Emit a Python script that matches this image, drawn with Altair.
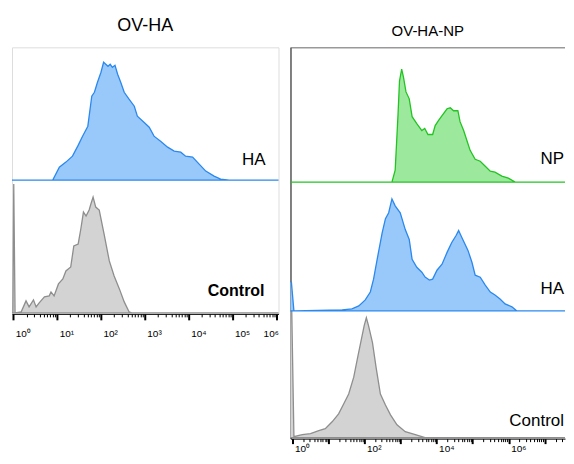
import math
import altair as alt
import pandas as pd

# ---------------- data (x = log10 of fluorescence, y = event count) ----------------
# Left panel: OV-HA
ha1_x = [-0.10, 0.90, 1.05, 1.20, 1.35, 1.47, 1.58, 1.70, 1.79, 1.85, 1.92, 2.00, 2.06, 2.11, 2.16,
         2.21, 2.26, 2.32, 2.38, 2.45, 2.53, 2.64, 2.76, 2.83, 2.98, 3.10, 3.21, 3.36, 3.52, 3.67,
         3.82, 3.93, 4.09, 4.24, 4.39, 4.58, 4.73, 4.92, 7.00]
ha1_y = [0, 0, 13, 18, 24, 34, 44, 54, 84, 88, 98, 108, 118, 116, 114,
         116, 113, 115, 106, 98, 88, 81, 74, 64, 58, 53, 44, 39, 33, 29,
         28, 24, 23, 16, 9, 4, 1, 0, 0]

ctl1_x = [-0.10, -0.01, 0.01, 0.04, 0.18, 0.29, 0.36, 0.46, 0.52, 0.59, 0.71, 0.82, 0.86, 0.93,
          1.03, 1.13, 1.20, 1.31, 1.38, 1.48, 1.54, 1.60, 1.66, 1.73, 1.77, 1.82, 1.88, 1.96,
          2.07, 2.19, 2.30, 2.42, 2.53, 2.64, 2.70, 7.00]
ctl1_y = [0, 0, 129, 0, 1, 12, 6, 13, 6, 10, 16, 17, 21, 17,
          29, 34, 42, 46, 67, 69, 84, 101, 97, 103, 109, 116, 106, 103,
          79, 52, 37, 24, 11, 1, 0, 0]

# Right panel: OV-HA-NP
np2_x = [-0.10, 2.76, 2.85, 2.93, 2.97, 3.03, 3.08, 3.15, 3.24, 3.32, 3.45, 3.59, 3.67, 3.76,
         3.89, 3.96, 4.05, 4.15, 4.29, 4.38, 4.47, 4.59, 4.65, 4.75, 4.84, 4.93, 5.07, 5.21,
         5.35, 5.49, 5.62, 5.81, 5.99, 6.18, 9.00]
np2_y = [0, 0, 12, 69, 102, 114, 106, 91, 84, 66, 59, 52, 54, 48,
         48, 57, 62, 67, 74, 75, 72, 72, 61, 52, 42, 32, 23, 21,
         16, 11, 10, 6, 4, 0, 0]

ha2_x = [-0.10, -0.03, 0.04, 1.38, 1.65, 1.84, 2.02, 2.16, 2.25, 2.35, 2.49, 2.58, 2.67, 2.76,
         2.85, 2.99, 3.13, 3.24, 3.32, 3.45, 3.59, 3.68, 3.80, 3.89, 4.01, 4.15, 4.29, 4.42,
         4.54, 4.61, 4.70, 4.87, 4.98, 5.07, 5.21, 5.35, 5.49, 5.62, 5.76, 5.90, 6.09, 6.22, 9.00]
ha2_y = [29, 29, 0, 1, 2, 5, 11, 19, 32, 52, 79, 93, 99, 113,
         106, 99, 82, 72, 52, 44, 39, 34, 31, 32, 41, 47, 59, 69,
         76, 81, 74, 61, 49, 36, 34, 26, 19, 16, 12, 7, 4, 0, 0]

ctl2_x = [-0.10, -0.02, 0.04, 0.27, 0.50, 0.73, 0.91, 1.10, 1.28, 1.42, 1.56, 1.70, 1.82, 1.91,
          1.99, 2.05, 2.11, 2.22, 2.32, 2.44, 2.58, 2.72, 2.90, 3.13, 3.41, 3.68, 9.00]
ctl2_y = [128, 128, 1, 3, 4, 7, 9, 16, 24, 34, 44, 61, 83, 99,
          113, 121, 113, 96, 71, 44, 33, 23, 13, 6, 3, 0, 0]

left_labels = ["HA", "Control"]
right_labels = ["NP", "HA", "Control"]
left_title = "OV-HA"
right_title = "OV-HA-NP"

# ---------------- styles / layout ----------------
FONT = "Liberation Sans"
BLUE_FILL, BLUE_LINE = "#99c9fb", "#2a88ee"
GREEN_FILL, GREEN_LINE = "#9ce89c", "#22c422"
GRAY_FILL, GRAY_LINE = "#d3d3d3", "#8e8e8e"

LW, LH = 267, 267      # left plot area
RW, RH = 275, 392      # right plot area
L_DOM = [-0.03, 6.05]
R_DOM = [-0.055, -0.055 + RW / 36.1]
L_YMAX, R_YMAX = 267, 395

SUP = "['⁰','¹','²','³','⁴','⁵','⁶','⁷','⁸']"


def log_ticks(kmax, limit):
    vals = []
    for k in range(kmax + 1):
        for m in range(1, 10):
            v = k + math.log10(m)
            if v <= limit:
                vals.append(round(v, 5))
    return vals


def x_axis(values, label_test, major, pad, last_right=None):
    align = "left"
    if last_right is not None:
        align = {"condition": {"test": f"datum.value >= {last_right}", "value": "right"},
                 "value": "left"}
    return alt.Axis(
        values=values,
        labelExpr=f"{label_test} ? '10' + {SUP}[datum.value] : ''",
        tickSize={"condition": {"test": "datum.value % 1 === 0", "value": major}, "value": 3},
        tickWidth={"condition": {"test": "datum.value % 1 === 0", "value": 2}, "value": 1},
        tickColor="black", domainColor="black", domainWidth=1,
        labelFont=FONT, labelFontSize=10, labelColor="black",
        labelAlign=align, labelBaseline="top", labelPadding=pad, labelOffset=2,
        labelFlush=False, labelOverlap=False, grid=False, title=None, zindex=1,
    )


def area(xs, ys, offset, fill, line, xscale, yscale, xaxis, yaxis):
    df = pd.DataFrame({"logx": xs, "count": ys})
    df["top"] = df["count"] + offset
    df["base"] = offset
    return alt.Chart(df).mark_area(
        fill=fill, stroke=line, strokeWidth=1.3, interpolate="linear", clip=True
    ).encode(
        x=alt.X("logx:Q", scale=xscale, axis=xaxis),
        y=alt.Y("top:Q", scale=yscale, axis=yaxis),
        y2="base:Q",
    )


def label(text, x, y, size=17, weight="normal"):
    return alt.Chart(pd.DataFrame({"t": [text]})).mark_text(
        font=FONT, fontSize=size, fontWeight=weight, align="right",
        baseline="alphabetic", color="black"
    ).encode(text="t:N", x=alt.value(x), y=alt.value(y))


# ---------------- left panel ----------------
lx = alt.Scale(domain=L_DOM, nice=False, zero=False)
ly = alt.Scale(domain=[0, L_YMAX], nice=False, zero=False)
lax = x_axis(log_ticks(6, 6.0), "datum.value % 1 === 0", 6, 9, last_right=6)

left = alt.layer(
    area(ctl1_x, ctl1_y, 1, GRAY_FILL, GRAY_LINE, lx, ly, lax, None),
    area(ha1_x, ha1_y, 134, BLUE_FILL, BLUE_LINE, lx, ly, lax, None),
    label(left_labels[0], 254, 117.5),
    label(left_labels[1], 253, 249.5, size=16, weight="bold"),
).properties(
    width=LW, height=LH,
    title=alt.Title(left_title, font=FONT, fontSize=18, fontWeight="normal",
                    anchor="middle", baseline="alphabetic", offset=-2, color="black"),
)

# ---------------- right panel ----------------
rx = alt.Scale(domain=R_DOM, nice=False, zero=False)
ry = alt.Scale(domain=[0, R_YMAX], nice=False, zero=False)
rax = x_axis(log_ticks(7, R_DOM[1]), "datum.value % 2 === 0", 5, 0)
ryax = alt.Axis(domain=True, domainColor="black", ticks=False, labels=False,
                grid=False, title=None)

top_rule = alt.Chart(pd.DataFrame({"a": [0]})).mark_rule(
    color="#666666", strokeWidth=1
).encode(x=alt.value(0), x2=alt.value(RW), y=alt.value(0.5))

right = alt.layer(
    area(ctl2_x, ctl2_y, 1, GRAY_FILL, GRAY_LINE, rx, ry, rax, ryax),
    area(ha2_x, ha2_y, 129, BLUE_FILL, BLUE_LINE, rx, ry, rax, ryax),
    area(np2_x, np2_y, 259, GREEN_FILL, GREEN_LINE, rx, ry, rax, ryax),
    top_rule,
    label(right_labels[0], RW - 1, 117),
    label(right_labels[1], RW - 1, 247),
    label(right_labels[2], RW - 1, 379),
).properties(
    width=RW, height=RH,
    view=alt.ViewBackground(strokeOpacity=0),
    title=alt.Title(right_title, font=FONT, fontSize=15, fontWeight="normal",
                    anchor="middle", baseline="alphabetic", offset=-4, color="black"),
)

chart = alt.hconcat(left, right, spacing=12, bounds="flush").properties(
    padding={"left": 3, "top": 8, "right": 0, "bottom": 0}
).configure_view(
    stroke="#555555", strokeWidth=1
).configure(background="white")

chart.save("out.html", embed_options={"renderer": "svg", "actions": False})
